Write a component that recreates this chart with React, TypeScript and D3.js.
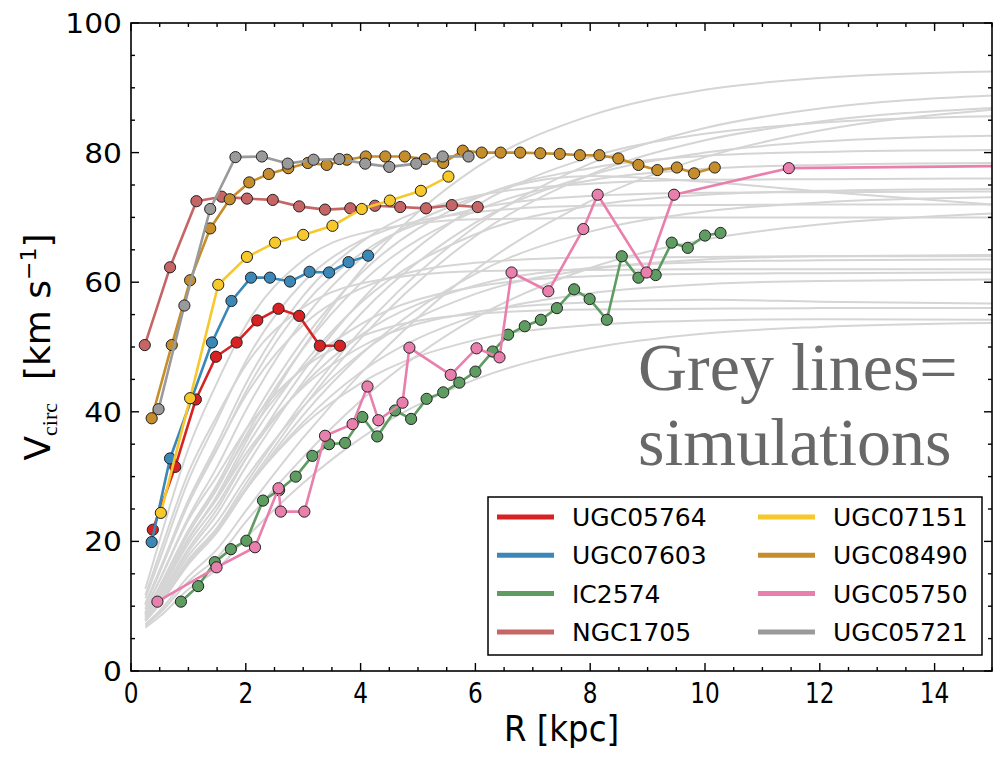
import React, { useRef, useEffect } from 'react';
import * as d3 from 'd3';

// observed rotation curves (R in kpc, V in km/s), legend order
const names = ['UGC05764', 'UGC07603', 'IC2574', 'NGC1705', 'UGC07151', 'UGC08490', 'UGC05750', 'UGC05721'];
const colors = ['#d62222', '#3a87b8', '#5e9c62', '#c66565', '#f7c82c', '#c58d2b', '#e97fad', '#9a9a9a'];

const ugc05764R = [0.38, 0.77, 1.13, 1.48, 1.84, 2.20, 2.57, 2.93, 3.29, 3.64];
const ugc05764V = [21.8, 31.5, 41.9, 48.5, 50.7, 54.1, 55.9, 54.8, 50.2, 50.2];

const ugc07603R = [0.36, 0.68, 1.41, 1.75, 2.09, 2.42, 2.77, 3.11, 3.45, 3.79, 4.13];
const ugc07603V = [19.9, 32.8, 50.7, 57.1, 60.7, 60.7, 60.1, 61.6, 61.5, 63.1, 64.1];

const ic2574R = [0.87, 1.17, 1.46, 1.74, 2.01, 2.30, 2.58, 2.87, 3.16, 3.45, 3.73, 4.03, 4.29, 4.60, 4.88, 5.15, 5.44,
  5.72, 6.00, 6.30, 6.57, 6.86, 7.14, 7.42, 7.72, 7.99, 8.29, 8.55, 8.84, 9.14, 9.42, 9.70, 10.00, 10.27];
const ic2574V = [10.7, 13.1, 16.8, 18.8, 20.1, 26.3, 27.9, 30.0, 33.2, 35.0, 35.2, 39.2, 36.2, 40.2, 38.9, 42.0, 43.0,
  44.5, 46.2, 49.3, 51.9, 53.2, 54.2, 56.0, 58.9, 57.4, 54.2, 64.0, 60.7, 61.1, 66.1, 65.3, 67.2, 67.6];

const ngc1705R = [0.24, 0.68, 1.14, 1.58, 2.02, 2.47, 2.93, 3.38, 3.82, 4.25, 4.69, 5.14, 5.59, 6.04];
const ngc1705V = [50.3, 62.3, 72.5, 73.2, 72.9, 72.7, 71.7, 71.2, 71.4, 71.8, 71.6, 71.4, 71.9, 71.6];

const ugc07151R = [0.52, 1.03, 1.52, 2.02, 2.51, 3.00, 3.51, 4.02, 4.51, 5.05, 5.53];
const ugc07151V = [24.4, 42.1, 59.6, 63.9, 66.1, 67.3, 68.7, 71.3, 72.6, 74.1, 76.3];

const ugc08490R = [0.36, 0.71, 1.03, 1.38, 1.72, 2.06, 2.40, 2.74, 3.08, 3.41, 3.76, 4.09, 4.43, 4.77, 5.12, 5.44,
  5.78, 6.11, 6.44, 6.78, 7.13, 7.47, 7.82, 8.16, 8.49, 8.84, 9.17, 9.51, 9.81, 10.17];
const ugc08490V = [39.0, 50.3, 60.3, 68.3, 72.8, 75.4, 76.7, 77.6, 78.4, 78.1, 78.9, 79.4, 79.4, 79.4, 79.0, 78.4,
  80.3, 80.0, 80.0, 80.0, 79.9, 79.8, 79.6, 79.6, 79.1, 78.1, 77.3, 77.7, 76.8, 77.7];

const ugc05750R = [0.46, 1.49, 2.16, 2.57, 2.61, 3.02, 3.38, 3.86, 4.12, 4.31, 4.73, 4.85, 5.57, 6.02, 6.42, 6.63,
  7.27, 7.88, 8.13, 8.98, 9.46, 11.46, 16.0];
const ugc05750V = [10.7, 16.0, 19.1, 28.2, 24.6, 24.6, 36.3, 38.1, 43.9, 38.7, 41.4, 49.9, 45.7, 49.8, 48.4, 61.5,
  58.6, 68.2, 73.5, 61.5, 73.5, 77.6, 78.0];

const ugc05721R = [0.48, 0.93, 1.38, 1.82, 2.28, 2.73, 3.18, 3.63, 4.08, 4.50, 4.97, 5.43, 5.88];
const ugc05721V = [40.4, 56.4, 71.3, 79.3, 79.4, 78.3, 78.9, 79.0, 78.3, 77.8, 78.3, 79.4, 79.4];

// simulated curves, sampled at simR
const simR = [0.25, 0.5, 1, 1.5, 2, 3, 4, 6, 8, 10, 12, 15];
const sims = [
  [8.7, 12.3, 20.3, 27.1, 35.3, 49.9, 61.8, 77.6, 85.7, 89.7, 91.5, 92.5],
  [7.8, 10.5, 16.9, 22.1, 28.9, 41.6, 52.5, 68.6, 78.3, 83.8, 86.8, 88.8],
  [7.7, 10.3, 16.5, 21.6, 28.2, 40.7, 51.3, 67.1, 76.6, 81.9, 84.8, 86.9],
  [7.2, 9.3, 14.6, 18.8, 24.7, 36.0, 45.9, 61.9, 72.5, 79.3, 83.4, 86.6],
  [8.2, 11.3, 18.4, 24.2, 31.5, 44.6, 55.1, 69.2, 76.5, 80.0, 81.7, 82.6],
  [9.0, 13.0, 21.7, 28.8, 37.2, 51.1, 61.3, 72.9, 77.6, 79.5, 80.1, 80.4],
  [10.3, 15.5, 26.4, 35.1, 44.3, 57.9, 66.1, 73.3, 75.2, 75.8, 75.9, 76.0],
  [9.5, 14.1, 23.7, 31.5, 40.2, 54.2, 63.6, 73.1, 76.4, 75.5, 74.0, 72.0],
  [7.7, 10.4, 16.5, 21.4, 27.9, 39.5, 48.8, 61.3, 67.8, 70.9, 72.3, 73.1],
  [8.6, 12.2, 20.3, 26.7, 34.4, 47.3, 56.8, 67.4, 71.8, 73.5, 74.1, 74.4],
  [7.0, 8.9, 13.8, 17.5, 23.0, 33.0, 41.7, 54.5, 62.2, 66.6, 68.9, 70.6],
  [12.7, 20.2, 34.3, 44.5, 53.3, 63.4, 67.5, 69.7, 69.9, 70.0, 70.0, 70.0],
  [11.2, 17.2, 29.4, 38.7, 47.8, 60.0, 66.4, 70.8, 71.8, 71.9, 72.0, 72.0],
  [8.0, 11.0, 17.8, 23.0, 29.7, 40.8, 49.0, 58.2, 62.0, 63.5, 64.0, 64.2],
  [8.5, 12.0, 19.7, 25.7, 32.8, 44.1, 51.8, 59.5, 62.2, 63.1, 63.4, 63.5],
  [9.1, 13.1, 21.7, 28.4, 35.9, 46.9, 53.5, 59.3, 60.9, 61.3, 61.4, 61.5],
  [11.7, 18.2, 30.6, 39.4, 47.2, 56.1, 59.8, 61.7, 61.9, 62.0, 62.0, 62.0],
  [8.8, 12.5, 20.5, 26.6, 33.5, 43.8, 50.0, 55.4, 56.9, 57.3, 57.0, 56.7],
  [7.9, 10.7, 17.2, 22.0, 28.1, 37.9, 44.4, 51.1, 53.4, 54.1, 54.3, 54.2],
  [6.7, 8.4, 12.6, 15.7, 20.5, 29.0, 35.9, 45.0, 49.8, 52.1, 53.1, 53.7],
  [9.6, 14.0, 23.3, 30.1, 37.2, 46.7, 51.6, 55.1, 55.8, 55.9, 56.0, 56.0],
  [10.1, 15.2, 25.8, 34.2, 43.1, 56.4, 64.4, 71.3, 73.3, 73.8, 73.9, 74.0],
  [10.4, 15.6, 26.3, 34.4, 42.5, 53.4, 59.0, 63.0, 63.8, 63.9, 64.0, 64.0],
  [8.3, 11.6, 18.9, 25.0, 32.7, 46.2, 57.1, 71.7, 79.3, 82.9, 84.6, 85.6],
  [8.9, 12.7, 21.2, 28.1, 36.3, 49.8, 59.8, 71.0, 75.7, 77.5, 78.1, 78.4],
  [7.8, 10.5, 16.8, 21.7, 28.0, 38.4, 46.1, 54.8, 58.3, 59.7, 60.2, 60.4],
];

const xTicks = [0, 2, 4, 6, 8, 10, 12, 14];
const yTicks = [0, 20, 40, 60, 80, 100];

const allR = [ugc05764R, ugc07603R, ic2574R, ngc1705R, ugc07151R, ugc08490R, ugc05750R, ugc05721R];
const allV = [ugc05764V, ugc07603V, ic2574V, ngc1705V, ugc07151V, ugc08490V, ugc05750V, ugc05721V];

const App = () => {
  const svgRef = useRef(null);

  useEffect(() => {
    const svg = d3.select(svgRef.current);
    svg.selectAll('*').remove();

    const left = 131, right = 992, top = 23, bottom = 671;
    const x = d3.scaleLinear().domain([0, 15]).range([left, right]);
    const y = d3.scaleLinear().domain([0, 100]).range([bottom, top]);

    svg.append('defs').append('clipPath').attr('id', 'plotclip')
      .append('rect').attr('x', left).attr('y', top).attr('width', right - left).attr('height', bottom - top);

    const plot = svg.append('g').attr('clip-path', 'url(#plotclip)');

    // grey simulation curves
    const simLine = d3.line<number>()
      .x((d, i) => x(simR[i]))
      .y(d => y(d))
      .curve(d3.curveMonotoneX);
    plot.selectAll('path.sim').data(sims).enter().append('path')
      .attr('class', 'sim')
      .attr('d', d => simLine(d))
      .attr('fill', 'none')
      .attr('stroke', '#d5d5d5')
      .attr('stroke-width', 2);

    // observed galaxies
    names.forEach((name, k) => {
      const pts = allR[k].map((r, i) => [r, allV[k][i]]);
      const line = d3.line().x(d => x(d[0])).y(d => y(d[1]));
      plot.append('path')
        .attr('d', line(pts))
        .attr('fill', 'none')
        .attr('stroke', colors[k])
        .attr('stroke-width', 2.6)
        .attr('stroke-linejoin', 'round');
      plot.selectAll('circle.g' + k).data(pts).enter().append('circle')
        .attr('class', 'g' + k)
        .attr('cx', d => x(d[0]))
        .attr('cy', d => y(d[1]))
        .attr('r', 5.6)
        .attr('fill', colors[k])
        .attr('stroke', '#222')
        .attr('stroke-width', 1);
    });

    // frame
    svg.append('rect')
      .attr('x', left).attr('y', top).attr('width', right - left).attr('height', bottom - top)
      .attr('fill', 'none').attr('stroke', '#000').attr('stroke-width', 1.6);

    // ticks, inward on all four sides
    const ax = svg.append('g').attr('stroke', '#000').attr('stroke-width', 1.4);
    d3.range(0, 15.01, 0.5).forEach(t => {
      const len = t % 2 === 0 ? 8 : 4;
      ax.append('line').attr('x1', x(t)).attr('x2', x(t)).attr('y1', bottom).attr('y2', bottom - len);
      ax.append('line').attr('x1', x(t)).attr('x2', x(t)).attr('y1', top).attr('y2', top + len);
    });
    d3.range(0, 100.01, 5).forEach(t => {
      const len = t % 20 === 0 ? 8 : 4;
      ax.append('line').attr('y1', y(t)).attr('y2', y(t)).attr('x1', left).attr('x2', left + len);
      ax.append('line').attr('y1', y(t)).attr('y2', y(t)).attr('x1', right).attr('x2', right - len);
    });

    const sans = 'DejaVu Sans, sans-serif';
    xTicks.forEach(t => {
      svg.append('text')
        .attr('transform', `translate(${x(t)},${bottom + 32}) scale(0.8,1)`)
        .attr('text-anchor', 'middle')
        .attr('font-family', sans).attr('font-size', 29)
        .text(t);
    });
    yTicks.forEach(t => {
      svg.append('text')
        .attr('transform', `translate(${left - 9},${y(t) + 10}) scale(1.1,1)`)
        .attr('text-anchor', 'end')
        .attr('font-family', sans).attr('font-size', 27)
        .text(t);
    });

    // axis labels
    svg.append('text')
      .attr('transform', `translate(${(left + right) / 2},741) scale(0.9,1)`)
      .attr('text-anchor', 'middle')
      .attr('font-family', sans).attr('font-size', 36)
      .text('R [kpc]');

    const yl = svg.append('text')
      .attr('transform', `translate(50,${(top + bottom) / 2}) rotate(-90)`)
      .attr('text-anchor', 'middle')
      .attr('font-family', sans).attr('font-size', 36);
    yl.append('tspan').text('V');
    yl.append('tspan').attr('font-family', 'Liberation Serif, serif').attr('font-size', 22).attr('dy', 7).text('circ');
    yl.append('tspan').attr('dy', -7).attr('xml:space', 'preserve').text('\u00a0\u00a0[km s');
    yl.append('tspan').attr('font-size', 22).attr('dy', -14).text('\u22121');
    yl.append('tspan').attr('dy', 14).text(']');

    // annotation
    const note = svg.append('text')
      .attr('font-family', 'Liberation Serif, serif').attr('font-size', 68).attr('fill', '#686868');
    note.append('tspan').attr('x', 638).attr('y', 390).text('Grey lines=');
    note.append('tspan').attr('x', 638).attr('y', 465).text('simulations');

    // legend
    const lg = svg.append('g');
    lg.append('rect').attr('x', 488).attr('y', 497).attr('width', 494).attr('height', 158)
      .attr('fill', '#fff').attr('stroke', '#000').attr('stroke-width', 1.5);
    names.forEach((name, k) => {
      const col = Math.floor(k / 4), row = k % 4;
      const lx = col === 0 ? 497 : 758;
      const ly = 517 + row * 38.3;
      lg.append('line').attr('x1', lx).attr('x2', lx + 57).attr('y1', ly).attr('y2', ly)
        .attr('stroke', colors[k]).attr('stroke-width', 5);
      lg.append('text').attr('x', lx + 75).attr('y', ly + 9)
        .attr('font-family', sans).attr('font-size', 25)
        .text(name);
    });
  }, []);

  return (
    <svg
      ref={svgRef}
      width={993}
      height={759}
      style={{ position: 'absolute', left: 0, top: 0, background: '#fff' }}
    />
  );
};

export default App;
